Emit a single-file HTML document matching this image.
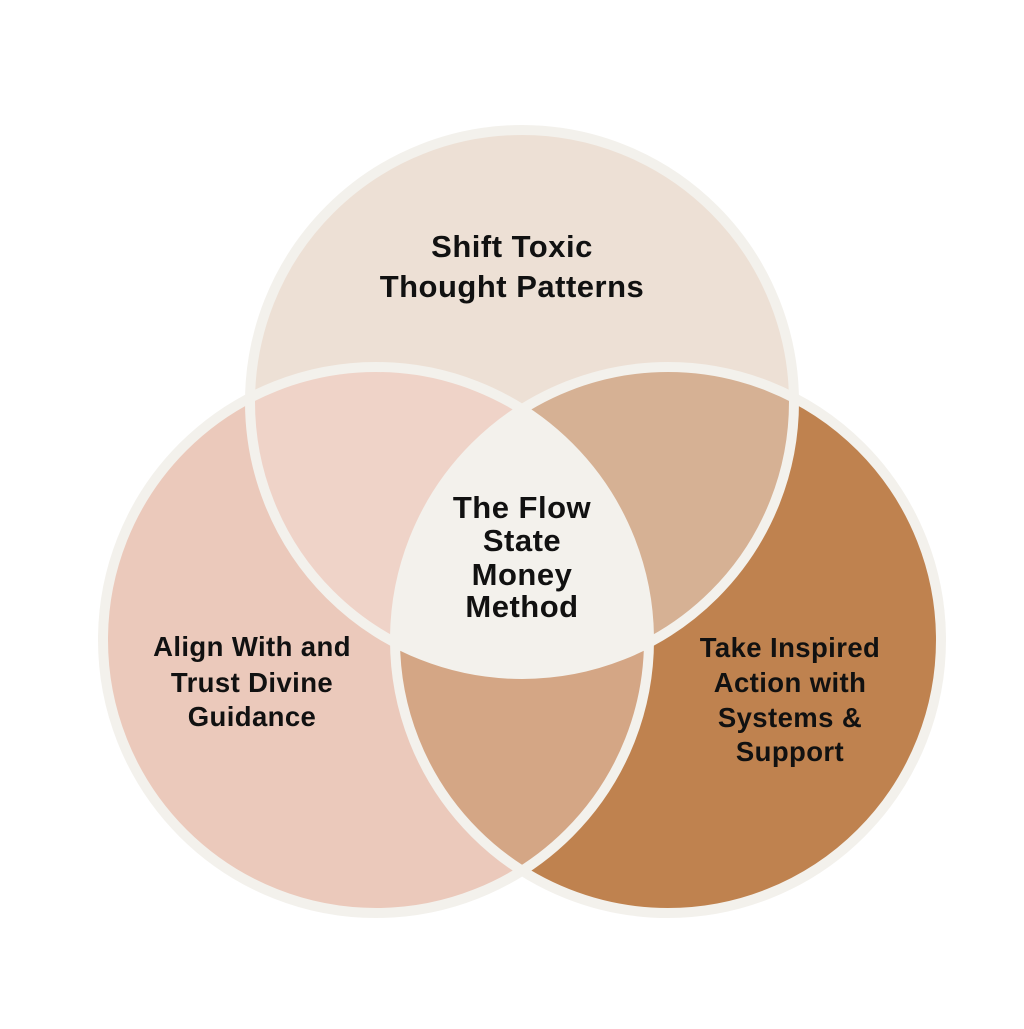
<!DOCTYPE html>
<html><head><meta charset="utf-8"><style>
html,body{margin:0;padding:0;background:#fff;}
svg text{font-family:"Liberation Sans",sans-serif;font-weight:bold;fill:#111;text-anchor:middle;}
</style></head><body>
<svg width="1024" height="1024" viewBox="0 0 1024 1024" xmlns="http://www.w3.org/2000/svg">
<defs>
<clipPath id="cT"><circle cx="522" cy="402" r="272"/></clipPath>
<clipPath id="cL"><circle cx="376" cy="640" r="273"/></clipPath>
<clipPath id="cR"><circle cx="668" cy="640" r="273"/></clipPath>
</defs>
<rect width="1024" height="1024" fill="#fff"/>
<circle cx="522" cy="402" r="272" fill="#ede0d5"/>
<circle cx="376" cy="640" r="273" fill="#ebc9bb"/>
<circle cx="668" cy="640" r="273" fill="#bf824f"/>
<g clip-path="url(#cT)"><circle cx="376" cy="640" r="273" fill="#efd3c8"/><circle cx="668" cy="640" r="273" fill="#d6b194"/></g>
<g clip-path="url(#cL)"><circle cx="668" cy="640" r="273" fill="#d4a685"/></g>
<g clip-path="url(#cT)"><g clip-path="url(#cL)"><circle cx="668" cy="640" r="273" fill="#f3f1ec"/></g></g>
<g fill="none" stroke="#f3f1ec" stroke-width="10">
<circle cx="522" cy="402" r="272"/>
<circle cx="376" cy="640" r="273"/>
<circle cx="668" cy="640" r="273"/>
</g>
<g font-size="31" letter-spacing="0.5">
<text x="512" y="257">Shift Toxic</text>
<text x="512" y="297">Thought Patterns</text>
<text x="522" y="518">The Flow</text>
<text x="522" y="551">State</text>
<text x="522" y="585">Money</text>
<text x="522" y="617">Method</text>
</g>
<g font-size="27.5" letter-spacing="0.4">
<text x="252" y="656">Align With and</text>
<text x="252" y="692">Trust Divine</text>
<text x="252" y="726">Guidance</text>
<text x="790" y="657">Take Inspired</text>
<text x="790" y="692">Action with</text>
<text x="790" y="727">Systems &amp;</text>
<text x="790" y="761">Support</text>
</g>
</svg>
</body></html>
